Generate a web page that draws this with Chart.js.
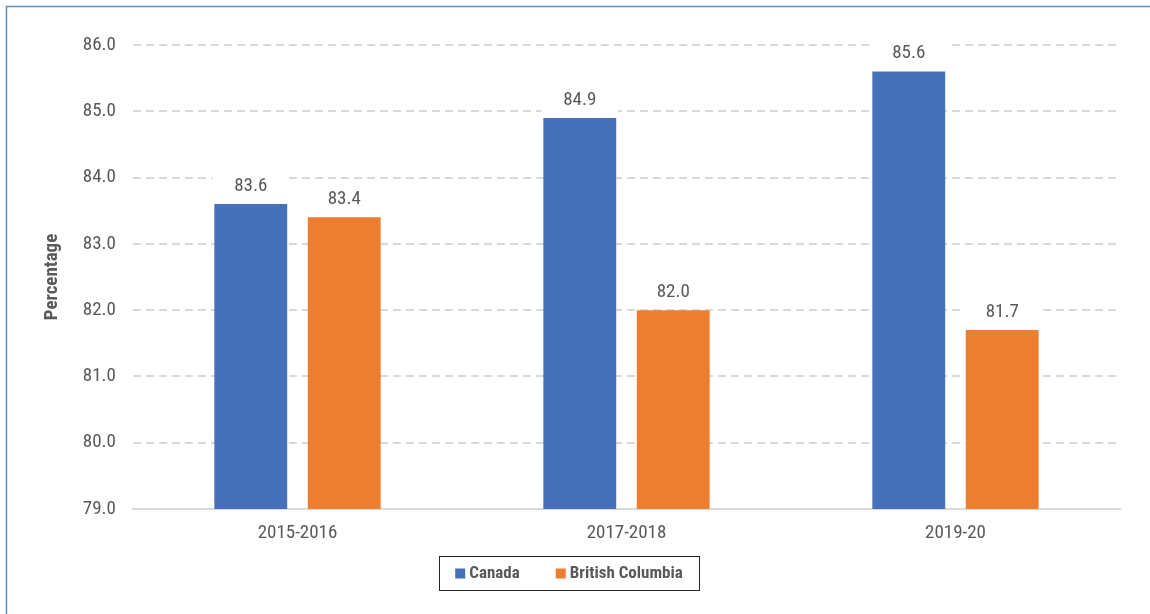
<!DOCTYPE html>
<html>
<head>
<meta charset="utf-8">
<script src="https://cdn.jsdelivr.net/npm/chart.js@4.4.1/dist/chart.umd.min.js"></script>
<style>
  html, body { margin: 0; padding: 0; background: #ffffff; }
  #wrap { width: 1150px; height: 614px; position: relative; }
</style>
</head>
<body>
<div id="wrap"><canvas id="chart"></canvas></div>
<script>
// chart data
const categories = ['2015-2016', '2017-2018', '2019-20'];
const seriesNames = ['Canada', 'British Columbia'];
const canadaValues = [83.6, 84.9, 85.6];
const bcValues = [83.4, 82.0, 81.7];
const seriesColors = ['#4671BA', '#ED7D31'];
const yMin = 79, yMax = 86, yStep = 1;

const FONT = "'Roboto Condensed', 'Liberation Sans Narrow', 'DejaVu Sans Condensed', Roboto, sans-serif";
const TEXT = '#595959';

// thin blue frame around the chart
const framePlugin = {
    id: 'frame',
    afterDraw(chart) {
        const ctx = chart.ctx;
        ctx.save();
        ctx.strokeStyle = '#5b8ec9';
        ctx.lineWidth = 1.5;
        ctx.strokeRect(6.5, 6.5, chart.width + 20, chart.height + 20);
        ctx.restore();
    }
};

// value labels above each bar, with a white box that breaks the gridlines
const valueLabels = {
    id: 'valueLabels',
    afterDatasetsDraw(chart) {
        const ctx = chart.ctx;
        ctx.save();
        ctx.font = '19px ' + FONT;
        ctx.textAlign = 'center';
        ctx.textBaseline = 'middle';
        chart.data.datasets.forEach((ds, i) => {
            chart.getDatasetMeta(i).data.forEach((bar, j) => {
                const y = bar.y - 18;
                ctx.fillStyle = '#ffffff';
                ctx.fillRect(bar.x - bar.width / 2 - 2, y - 12, bar.width + 4, 24);
                ctx.fillStyle = TEXT;
                ctx.fillText(ds.data[j].toFixed(1), bar.x, y);
            });
        });
        ctx.restore();
    }
};

// boxed legend under the axis
const boxLegend = {
    id: 'boxLegend',
    afterDraw(chart) {
        const ctx = chart.ctx;
        ctx.save();
        ctx.font = 'bold 17px ' + FONT;
        ctx.textBaseline = 'middle';
        const sw = 10, gap = 4, spacing = 36, padX = 16;
        const widths = chart.data.datasets.map(ds => ctx.measureText(ds.label).width);
        let total = padX * 2;
        widths.forEach((w, i) => { total += sw + gap + w + (i ? spacing : 0); });
        const cx = 569, top = 556, h = 34;
        let x = cx - total / 2;
        ctx.strokeStyle = '#262626';
        ctx.lineWidth = 1;
        ctx.strokeRect(Math.round(x) + 0.5, top + 0.5, Math.round(total), h);
        x += padX;
        const cy = top + h / 2 + 0.5;
        chart.data.datasets.forEach((ds, i) => {
            if (i) x += spacing;
            ctx.fillStyle = ds.backgroundColor;
            ctx.fillRect(x, cy - sw / 2, sw, sw);
            x += sw + gap;
            ctx.fillStyle = TEXT;
            ctx.fillText(ds.label, x, cy);
            x += widths[i];
        });
        ctx.restore();
    }
};

const ctx = document.getElementById('chart').getContext('2d');
new Chart(ctx, {
    type: 'bar',
    data: {
        labels: categories,
        datasets: [
            { label: seriesNames[0], data: canadaValues, backgroundColor: seriesColors[0] },
            { label: seriesNames[1], data: bcValues, backgroundColor: seriesColors[1] }
        ]
    },
    options: {
        responsive: true,
        maintainAspectRatio: false,
        animation: false,
        categoryPercentage: 0.568,
        barPercentage: 0.78,
        layout: { padding: { left: 36, right: 30, top: 45, bottom: 0 } },
        plugins: {
            legend: { display: false },
            tooltip: { enabled: false }
        },
        scales: {
            x: {
                grid: { display: false },
                border: { display: true, color: '#d9d9d9', width: 2 },
                ticks: { color: TEXT, font: { family: FONT, size: 19 }, padding: 5 },
                afterFit(scale) { scale.height = 105; }
            },
            y: {
                min: yMin,
                max: yMax,
                ticks: {
                    stepSize: yStep,
                    color: TEXT,
                    padding: 17,
                    font: { family: FONT, size: 19 },
                    callback: v => v.toFixed(1)
                },
                grid: {
                    color: '#d9d9d9',
                    lineWidth: 2,
                    drawTicks: false
                },
                border: { display: false, dash: [8, 5] },
                title: {
                    display: true,
                    text: 'Percentage',
                    color: TEXT,
                    font: { family: FONT, size: 19, weight: 'bold' },
                    padding: { top: 5, bottom: 0 }
                },
                afterFit(scale) { scale.width = 97; }
            }
        }
    },
    plugins: [framePlugin, valueLabels, boxLegend]
});
</script>
</body>
</html>
